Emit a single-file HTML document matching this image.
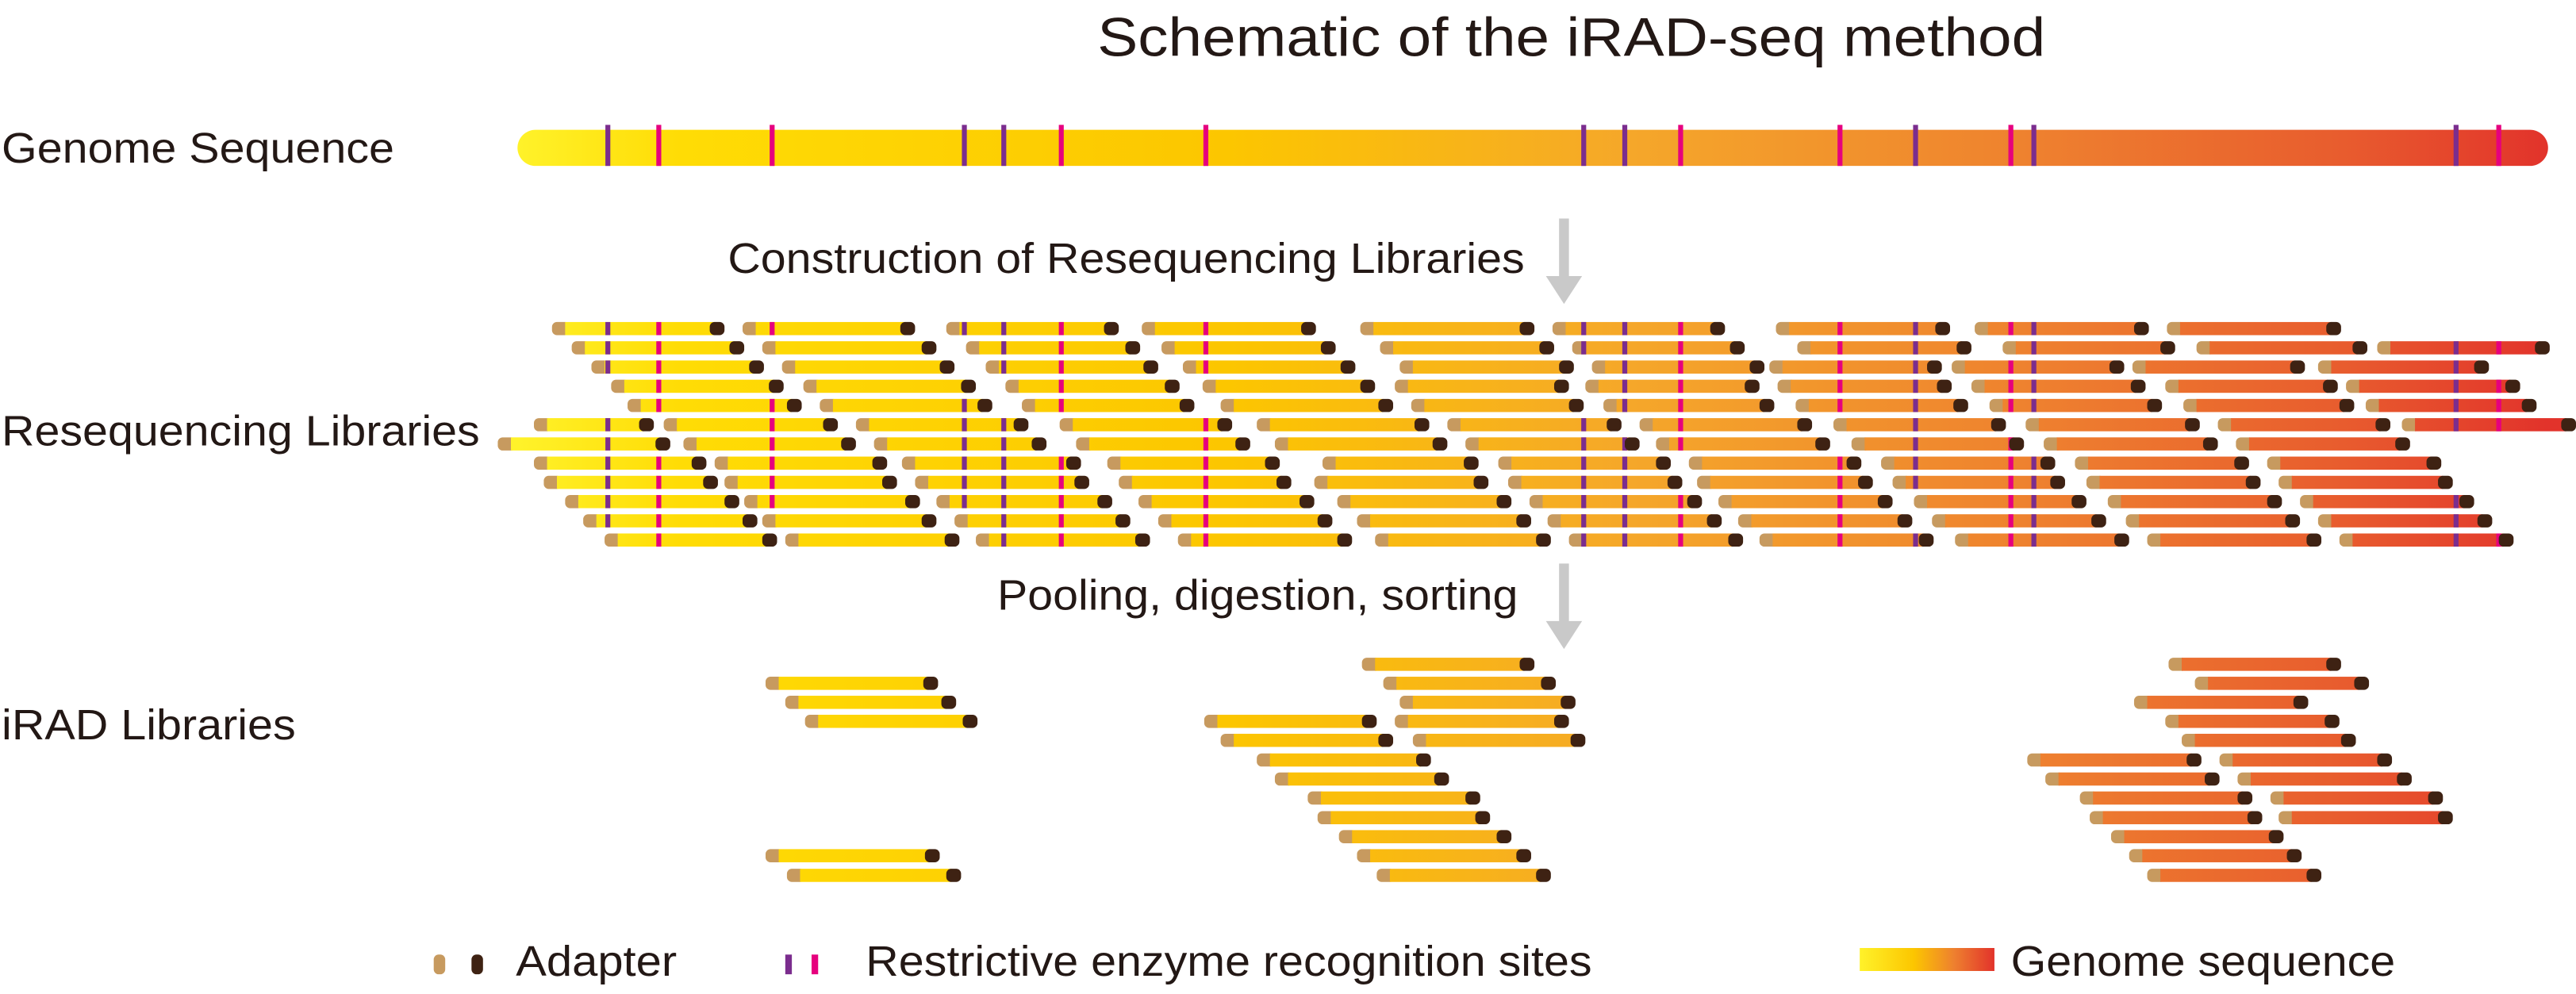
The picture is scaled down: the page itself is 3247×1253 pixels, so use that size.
<!DOCTYPE html>
<html><head><meta charset="utf-8">
<style>html,body{margin:0;padding:0;background:#fff;}svg{display:block}</style>
</head><body>
<svg id="s" xmlns="http://www.w3.org/2000/svg" width="3247" height="1253" viewBox="0 0 1568 605" preserveAspectRatio="none">
<defs>
<linearGradient id="g" gradientUnits="userSpaceOnUse" x1="315" y1="0" x2="1550" y2="0">
<stop offset="0" stop-color="#fff22a"/>
<stop offset="0.08" stop-color="#ffdc05"/>
<stop offset="0.35" stop-color="#fcc600"/>
<stop offset="0.55" stop-color="#f5a72a"/>
<stop offset="0.75" stop-color="#ee802f"/>
<stop offset="0.9" stop-color="#e85c2e"/>
<stop offset="1" stop-color="#e2332b"/>
</linearGradient>
<linearGradient id="lg" x1="0" y1="0" x2="1" y2="0">
<stop offset="0" stop-color="#fff22a"/>
<stop offset="0.4" stop-color="#fcc600"/>
<stop offset="0.7" stop-color="#ee802f"/>
<stop offset="1" stop-color="#e2332b"/>
</linearGradient>
</defs>
<g font-family="Liberation Sans, Arial, sans-serif" fill="#231815">
<text x="668" y="34" font-size="33" textLength="577" lengthAdjust="spacingAndGlyphs">Schematic of the iRAD-seq method</text>
<text x="1" y="99" font-size="26" textLength="239" lengthAdjust="spacingAndGlyphs">Genome Sequence</text>
<text x="443" y="166" font-size="26" textLength="485" lengthAdjust="spacingAndGlyphs">Construction of Resequencing Libraries</text>
<text x="1" y="271" font-size="26" textLength="291" lengthAdjust="spacingAndGlyphs">Resequencing Libraries</text>
<text x="607" y="371" font-size="26" textLength="317" lengthAdjust="spacingAndGlyphs">Pooling, digestion, sorting</text>
<text x="1" y="450" font-size="26" textLength="179" lengthAdjust="spacingAndGlyphs">iRAD Libraries</text>
<text x="314" y="594" font-size="26" textLength="98" lengthAdjust="spacingAndGlyphs">Adapter</text>
<text x="527" y="594" font-size="26" textLength="442" lengthAdjust="spacingAndGlyphs">Restrictive enzyme recognition sites</text>
<text x="1224" y="594" font-size="26" textLength="234" lengthAdjust="spacingAndGlyphs">Genome sequence</text>
</g>
<!-- arrows -->
<g fill="#c9c9c9">
<rect x="949" y="133" width="6" height="38"/><polygon points="941,168 963,168 952,185"/>
<rect x="949" y="343" width="6" height="38"/><polygon points="941,378 963,378 952,395"/>
</g>
<!-- genome bar -->
<rect x="315" y="79" width="1236" height="22" rx="11" fill="url(#g)"/>
<g id="gs"></g>
<g id="frags"></g>
<!-- legend -->
<rect x="264" y="581" width="7" height="12" rx="3" fill="#c79a5f"/>
<rect x="287" y="581" width="7" height="12" rx="3" fill="#3e2213"/>
<rect x="478" y="581" width="4" height="12" fill="#7b2d8e"/>
<rect x="494" y="581" width="4" height="12" fill="#e6007e"/>
<rect x="1132" y="577" width="82" height="14" fill="url(#lg)"/>
</svg>
<script>
var NS="http://www.w3.org/2000/svg";
var sites=[[370,'p'],[401,'k'],[470,'k'],[587,'p'],[611,'p'],[646,'k'],[734,'k'],[964,'p'],[989,'p'],[1023,'k'],[1120,'k'],[1166,'p'],[1224,'k'],[1238,'p'],[1495,'p'],[1521,'k']];
function col(c){return c=='p'?'#7b2d8e':'#e6007e';}
function r(g,x,y,w,h,f,rx){var e=document.createElementNS(NS,'rect');e.setAttribute('x',x);e.setAttribute('y',y);e.setAttribute('width',w);e.setAttribute('height',h);e.setAttribute('fill',f);if(rx)e.setAttribute('rx',rx);g.appendChild(e);}
var gs=document.getElementById('gs');
sites.forEach(function(s){r(gs,s[0]-1.5,76,3,25,col(s[1]));});
var F=document.getElementById('frags');
function frag(s,e,y,withSites){
 var h=8,t=y-h/2;
 r(F,s,t,11,h,'#c79a5f',3);
 r(F,s+8,t,e-s-14,h,'url(#g)');
 if(withSites){sites.forEach(function(q){if(q[0]>s+6&&q[0]<e-7)r(F,q[0]-1.5,t,3,h,col(q[1]));});}
 r(F,e-9,t,9,h,'#3e2213',3);
}
var rows=[
[[336,441],[452,557],[576,681],[695,801],[828,934],[945,1050],[1081,1187],[1202,1308],[1319,1425]],
[[348,453],[464,570],[588,694],[707,813],[840,946],[957,1062],[1094,1200],[1219,1324],[1337,1441],[1447,1552]],
[[360,465],[476,581],[600,705],[720,825],[852,958],[969,1074],[1077,1182],[1188,1293],[1298,1403],[1411,1515]],
[[372,477],[489,594],[612,718],[732,837],[849,955],[965,1071],[1082,1188],[1200,1306],[1318,1423],[1428,1534]],
[[382,488],[499,604],[622,727],[743,848],[859,964],[976,1080],[1093,1198],[1211,1316],[1329,1433],[1440,1544]],
[[325,398],[404,510],[521,626],[645,750],[765,870],[881,987],[998,1103],[1116,1221],[1233,1339],[1350,1455],[1462,1568]],
[[303,408],[416,521],[532,637],[655,761],[776,881],[892,998],[1008,1114],[1127,1232],[1244,1350],[1361,1467]],
[[325,430],[435,540],[549,658],[674,779],[805,900],[912,1017],[1028,1133],[1145,1251],[1263,1369],[1380,1486]],
[[331,437],[441,546],[557,663],[681,786],[800,906],[918,1024],[1033,1140],[1152,1257],[1270,1376],[1387,1493]],
[[344,450],[453,560],[570,677],[693,800],[814,920],[931,1036],[1046,1152],[1165,1270],[1283,1389],[1400,1506]],
[[355,461],[464,570],[581,688],[705,811],[826,932],[942,1048],[1058,1164],[1176,1282],[1294,1400],[1411,1517]],
[[368,473],[478,584],[594,700],[717,823],[837,944],[955,1061],[1071,1177],[1190,1296],[1307,1413],[1424,1530]]
];
rows.forEach(function(row,i){var y=200+i*11.7;row.forEach(function(f){frag(f[0],f[1],y,true);});});
var k=0.3858;
var irad=[
[1048,[[829,934],[1320,1425]]],
[1078,[[466,571],[842,947],[1336,1442]]],
[1108,[[478,582],[852,959],[1299,1405]]],
[1138,[[490,595],[733,838],[849,955],[1318,1424]]],
[1168,[[743,848],[860,965],[1328,1434]]],
[1199,[[765,871],[1234,1340],[1351,1456]]],
[1229,[[776,882],[1245,1351],[1362,1468]]],
[1259,[[796,901],[1266,1371],[1382,1487]]],
[1290,[[802,907],[1272,1377],[1387,1493]]],
[1320,[[815,920],[1285,1390]]],
[1350,[[466,572],[826,932],[1296,1401]]],
[1381,[[479,585],[838,944],[1307,1413]]]
];
irad.forEach(function(rw){var y=rw[0]*k;rw[1].forEach(function(f){frag(f[0],f[1],y,false);});});
</script>
</body></html>
